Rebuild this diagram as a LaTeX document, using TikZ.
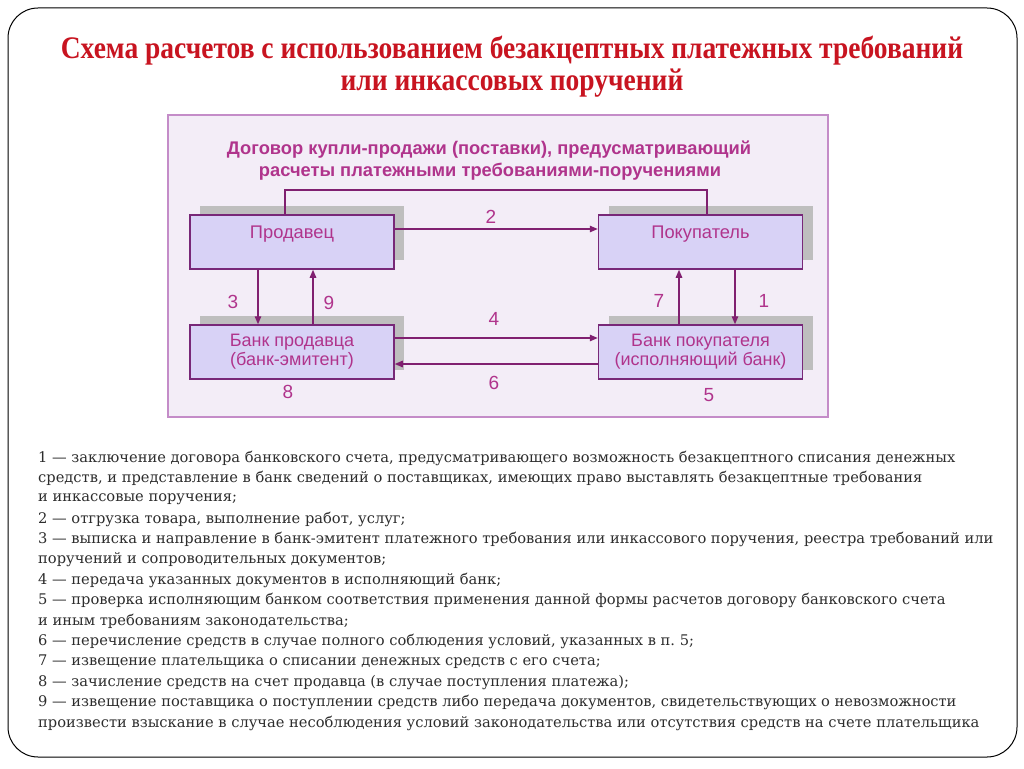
\documentclass[tikz,border=0pt]{standalone}
\usepackage{fontspec}
\setmainfont{DejaVu Serif}
\newfontfamily\titlefnt{Liberation Serif}
\newfontfamily\sansfnt{Liberation Sans}
\usetikzlibrary{arrows.meta,calc}
\frenchspacing
\definecolor{titlered}{RGB}{200,20,32}
\definecolor{panelfill}{RGB}{243,237,247}
\definecolor{panelline}{RGB}{196,140,200}
\definecolor{boxfill}{RGB}{216,210,246}
\definecolor{boxline}{RGB}{120,40,120}
\definecolor{arrowc}{RGB}{128,32,112}
\definecolor{magtext}{RGB}{176,52,140}
\definecolor{shadowc}{RGB}{190,190,190}
\definecolor{bodytext}{RGB}{45,45,45}
\tikzset{
  x=1pt,y=-1pt,
  boxnode/.style={draw=boxline,line width=1.5pt,fill=boxfill,minimum width=204pt,minimum height=54pt,inner sep=0pt,
    font=\sansfnt\fontsize{18}{19}\selectfont,text=magtext,align=center},
  shadownode/.style={fill=shadowc,minimum width=204pt,minimum height=54pt,inner sep=0pt},
  boxtext/.style={font=\sansfnt\fontsize{18.3}{19}\selectfont,text=magtext,inner sep=0pt},
  numlabel/.style={font=\sansfnt\fontsize{19}{20}\selectfont,text=magtext,inner sep=0pt},
  flow/.style={draw=arrowc,line width=1.3pt,-{Triangle[length=8pt,width=6.5pt]}},
  plainline/.style={draw=arrowc,line width=1.3pt},
  bodyline/.style={anchor=west,inner sep=0pt,font=\fontsize{14.65}{16}\selectfont,text=bodytext},
  titleline/.style={inner sep=0pt,font=\titlefnt\bfseries\fontsize{28}{30}\selectfont,text=titlered},
  headline/.style={inner sep=0pt,font=\sansfnt\bfseries\fontsize{18.3}{20}\selectfont,text=magtext}
}
\begin{document}
\begin{tikzpicture}
\useasboundingbox (0,0) rectangle (1024,768);
\fill[white] (0,0) rectangle (1024,768);
\draw[black,line width=1pt,rounded corners=30pt] (8,8) rectangle (1017,757);

% title
\node[titleline] (t1) at (512,51) {\scalebox{0.982}[1.12]{Схема расчетов с использованием безакцептных платежных требований}};
\node[titleline] (t2) at (512,83) {\scalebox{0.982}[1.12]{или инкассовых поручений}};

% panel
\draw[panelline,fill=panelfill,line width=1.6pt] (168,115) rectangle (828,417);
\node[headline] (h1) at (489,150) {Договор купли-продажи (поставки), предусматривающий};
\node[headline] (h2) at (490,172) {расчеты платежными требованиями-поручениями};

% shadows
\node[shadownode] (sh1) at (302,233) {};
\node[shadownode] (sh2) at (710.5,233) {};
\node[shadownode] (sh3) at (302,342.5) {};
\node[shadownode] (sh4) at (710.5,342.5) {};

% boxes
\node[boxnode] (seller) at (292,242) {};
\node[boxnode] (buyer) at (700.5,242) {};
\node[boxnode] (bankS) at (292,352) {Банк продавца\\(банк-эмитент)};
\node[boxnode] (bankB) at (700.5,352) {Банк покупателя\\(исполняющий банк)};
\node[boxtext] (tseller) at ([yshift=8pt]seller.center) {Продавец};
\node[boxtext] (tbuyer) at ([yshift=8pt]buyer.center) {Покупатель};

% connectors
\coordinate (sTop) at ([xshift=-7pt]seller.north);
\coordinate (bTop) at ([xshift=6.5pt]buyer.north);
\coordinate (lineY) at (0,190);
\draw[plainline] (sTop) -- (sTop |- lineY) -| (bTop);

\draw[flow] ([yshift=13pt]seller.east) -- ([yshift=13pt]buyer.west);
\draw[flow] ([yshift=14pt]bankS.east) -- ([yshift=14pt]bankB.west);
\draw[flow] ([yshift=-12pt]bankB.west) -- ([yshift=-12pt]bankS.east);
\draw[flow] ([xshift=-34pt]seller.south) -- ([xshift=-34pt]bankS.north);
\draw[flow] ([xshift=21pt]bankS.north) -- ([xshift=21pt]seller.south);
\draw[flow] ([xshift=-21.5pt]bankB.north) -- ([xshift=-21.5pt]buyer.south);
\draw[flow] ([xshift=34.5pt]buyer.south) -- ([xshift=34.5pt]bankB.north);

% number labels
\node[numlabel] (n2) at (491,217) {2};
\node[numlabel] (n3) at (233,302) {3};
\node[numlabel] (n9) at (329,303) {9};
\node[numlabel] (n7) at (659,301) {7};
\node[numlabel] (n1) at (764,301) {1};
\node[numlabel] (n4) at (494,319) {4};
\node[numlabel] (n6) at (494,383) {6};
\node[numlabel] (n8) at (288,392) {8};
\node[numlabel] (n5) at (709,395) {5};

% body text
\node[bodyline] (l1) at (38,458) {1 — заключение договора банковского счета, предусматривающего возможность безакцептного списания денежных};
\node[bodyline] (l2) at (38,478.4) {средств, и представление в банк сведений о поставщиках, имеющих право выставлять безакцептные требования};
\node[bodyline] (l3) at (38,498.8) {и инкассовые поручения;};
\node[bodyline] (l4) at (38,519.2) {2 — отгрузка товара, выполнение работ, услуг;};
\node[bodyline] (l5) at (38,539.6) {3 — выписка и направление в банк-эмитент платежного требования или инкассового поручения, реестра требований или};
\node[bodyline] (l6) at (38,560) {поручений и сопроводительных документов;};
\node[bodyline] (l7) at (38,580.4) {4 — передача указанных документов в исполняющий банк;};
\node[bodyline] (l8) at (38,600.8) {5 — проверка исполняющим банком соответствия применения данной формы расчетов договору банковского счета};
\node[bodyline] (l9) at (38,621.2) {и иным требованиям законодательства;};
\node[bodyline] (l10) at (38,641.6) {6 — перечисление средств в случае полного соблюдения условий, указанных в п. 5;};
\node[bodyline] (l11) at (38,662) {7 — извещение плательщика о списании денежных средств с его счета;};
\node[bodyline] (l12) at (38,682.4) {8 — зачисление средств на счет продавца (в случае поступления платежа);};
\node[bodyline] (l13) at (38,702.8) {9 — извещение поставщика о поступлении средств либо передача документов, свидетельствующих о невозможности};
\node[bodyline] (l14) at (38,723.2) {произвести взыскание в случае несоблюдения условий законодательства или отсутствия средств на счете плательщика};
\end{tikzpicture}
\end{document}
